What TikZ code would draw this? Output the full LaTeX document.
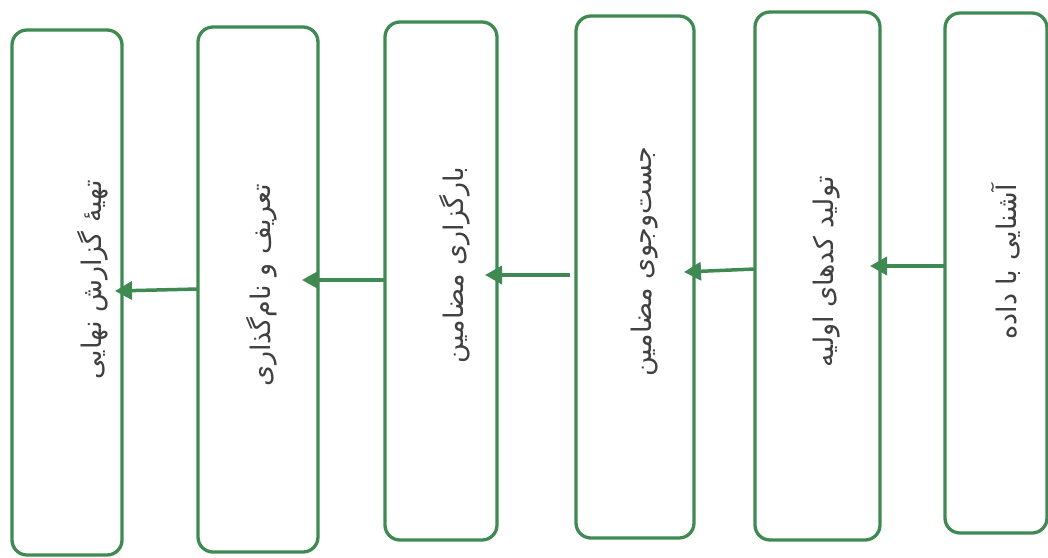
\documentclass[tikz,border=0pt]{standalone}
\usepackage{fontspec}
\newfontfamily\arabicfont[Script=Arabic]{DejaVu Sans}
\TeXXeTstate=1
\usetikzlibrary{arrows.meta}
\definecolor{boxgreen}{RGB}{62,138,82}
\definecolor{txtgray}{RGB}{64,64,64}
\tikzset{
  stagebox/.style={draw=boxgreen, line width=3.3pt, rounded corners=15pt, fill=white},
  stagetext/.style={rotate=90, text=txtgray, font=\arabicfont\fontsize{27}{32}\selectfont, inner sep=0pt},
  flow/.style={draw=boxgreen, line width=3.5pt, -{Triangle[length=17pt,width=18pt]}},
}
\begin{document}
\begin{tikzpicture}[x=1pt,y=-1pt]
\useasboundingbox (0,0) rectangle (1048,557);
% boxes
\draw[stagebox] (12,30) rectangle (122,555);
\draw[stagebox] (198,27) rectangle (318,552);
\draw[stagebox] (385,22) rectangle (497,540);
\draw[stagebox] (576,16) rectangle (694,538);
\draw[stagebox] (755,12) rectangle (880,540);
\draw[stagebox] (945,13) rectangle (1047,533);
% edge coordinates
\coordinate (b1e) at (122,0);
\coordinate (b2w) at (198,0);
\coordinate (b2e) at (318,0);
\coordinate (b3w) at (385,0);
\coordinate (b3e) at (497,0);
\coordinate (b4w) at (576,0);
\coordinate (b4e) at (694,0);
\coordinate (b5w) at (755,0);
\coordinate (b5e) at (880,0);
\coordinate (b6w) at (945,0);
% texts
\node[stagetext] (t1) at (93,280) {\beginR تهیهٔ گزارش نهایی\endR};
\node[stagetext] (t2) at (262,285) {\beginR تعریف و نام‌گذاری\endR};
\node[stagetext] (t3) at (455,265) {\beginR بارگزاری مضامین\endR};
\node[stagetext] (t4) at (645,262) {\beginR جست‌وجوی مضامین\endR};
\node[stagetext] (t5) at (827,272) {\beginR تولید کدهای اولیه\endR};
\node[stagetext] (t6) at (1006,262) {\beginR آشنایی با داده\endR};
% arrows
\draw[flow] (b6w |- 0,266) -- ([xshift=-10pt]b5e |- 0,266);
\draw[flow] (b5w |- 0,269) -- ([xshift=-10pt]b4e |- 0,272);
\draw[flow] ([xshift=-6pt]b4w |- 0,275) -- ([xshift=-12pt]b3e |- 0,275);
\draw[flow] (b3w |- 0,280) -- ([xshift=-16pt]b2e |- 0,280);
\draw[flow] (b2w |- 0,289) -- ([xshift=-7pt]b1e |- 0,291);
\end{tikzpicture}
\end{document}
